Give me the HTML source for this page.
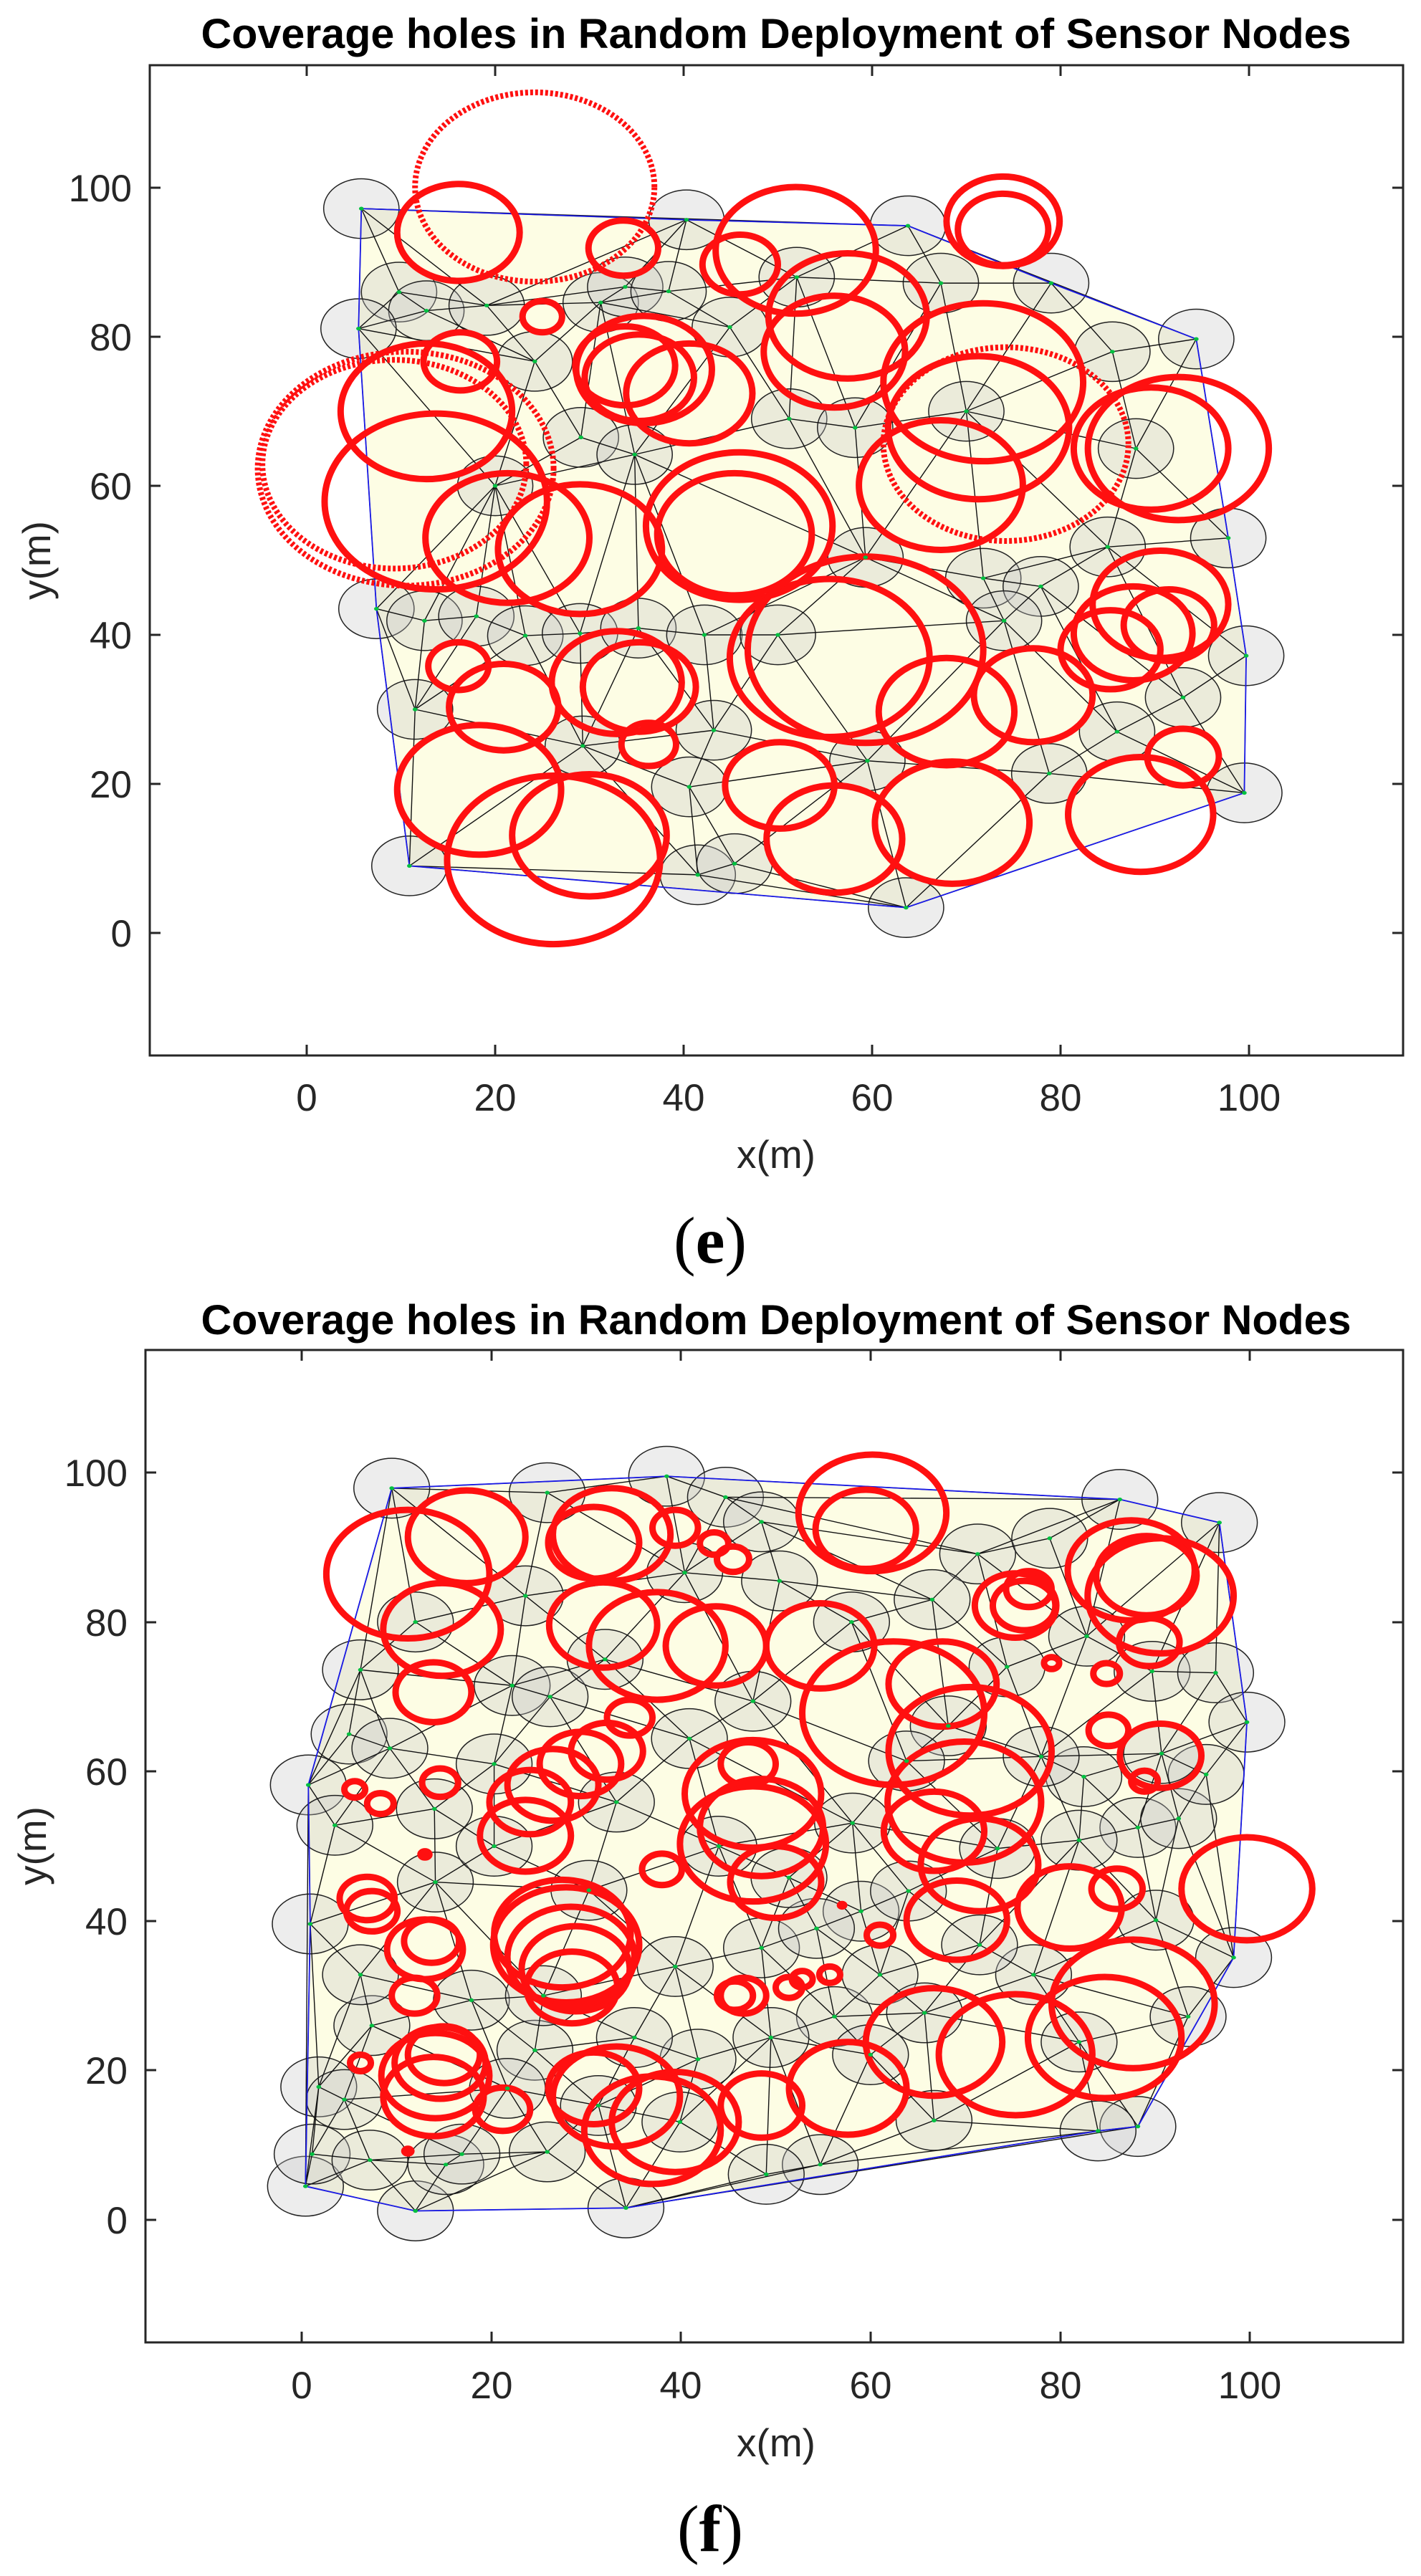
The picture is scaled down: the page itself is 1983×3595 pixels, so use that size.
<!DOCTYPE html>
<html><head><meta charset="utf-8"><style>
html,body{margin:0;padding:0;background:#fff;}
svg{display:block}
.t{font-family:"Liberation Sans",Arial,sans-serif;fill:#262626}
</style></head><body>
<svg id="S" width="1983" height="3595" viewBox="0 0 1983 3595" xmlns="http://www.w3.org/2000/svg">
<rect width="1983" height="3595" fill="#fff"/>
<!-- ================= TOP PLOT ================= -->
<text x="1083" y="67" text-anchor="middle" font-family="Liberation Sans,Arial,sans-serif" font-weight="bold" font-size="58" textLength="1605" lengthAdjust="spacingAndGlyphs">Coverage holes in Random Deployment of Sensor Nodes</text>
<g id="P1" transform="matrix(13.15 0 0 -10.4 428 1302)">
<polygon fill="#fdfde4" points="5.8,97.2 40.3,95.7 63.8,94.9 79,87.2 94.4,79.7 97.8,53 99.7,37.2 99.5,18.8 63.6,3.4 10.9,9 7.4,43.5 5.5,81.1"/>
</g>
<rect x="209" y="91" width="1749" height="1382" fill="none" stroke="#262626" stroke-width="3"/>
<g stroke="#262626" stroke-width="3">
<line x1="428" y1="1473" x2="428" y2="1458"/><line x1="691" y1="1473" x2="691" y2="1458"/><line x1="954" y1="1473" x2="954" y2="1458"/><line x1="1217" y1="1473" x2="1217" y2="1458"/><line x1="1480" y1="1473" x2="1480" y2="1458"/><line x1="1743" y1="1473" x2="1743" y2="1458"/>
<line x1="428" y1="91" x2="428" y2="106"/><line x1="691" y1="91" x2="691" y2="106"/><line x1="954" y1="91" x2="954" y2="106"/><line x1="1217" y1="91" x2="1217" y2="106"/><line x1="1480" y1="91" x2="1480" y2="106"/><line x1="1743" y1="91" x2="1743" y2="106"/>
<line x1="209" y1="1302" x2="224" y2="1302"/><line x1="209" y1="1094" x2="224" y2="1094"/><line x1="209" y1="886" x2="224" y2="886"/><line x1="209" y1="678" x2="224" y2="678"/><line x1="209" y1="470" x2="224" y2="470"/><line x1="209" y1="262" x2="224" y2="262"/>
<line x1="1958" y1="1302" x2="1943" y2="1302"/><line x1="1958" y1="1094" x2="1943" y2="1094"/><line x1="1958" y1="886" x2="1943" y2="886"/><line x1="1958" y1="678" x2="1943" y2="678"/><line x1="1958" y1="470" x2="1943" y2="470"/><line x1="1958" y1="262" x2="1943" y2="262"/>
</g>
<g class="t" font-size="53" text-anchor="end">
<text x="184" y="1321">0</text><text x="184" y="1113">20</text><text x="184" y="905">40</text><text x="184" y="697">60</text><text x="184" y="489">80</text><text x="184" y="281">100</text>
</g>
<g class="t" font-size="53" text-anchor="middle">
<text x="428" y="1550">0</text><text x="691" y="1550">20</text><text x="954" y="1550">40</text><text x="1217" y="1550">60</text><text x="1480" y="1550">80</text><text x="1743" y="1550">100</text>
<text x="1083" y="1630" font-size="55">x(m)</text>
<text transform="translate(70,782) rotate(-90)" font-size="55">y(m)</text>
</g>
<text x="991" y="1762" text-anchor="middle" font-family="Liberation Serif,serif" font-size="92" fill="#000">(<tspan font-weight="bold">e</tspan>)</text>

<!-- ================= BOTTOM PLOT ================= -->
<text x="1083" y="1862" text-anchor="middle" font-family="Liberation Sans,Arial,sans-serif" font-weight="bold" font-size="58" textLength="1605" lengthAdjust="spacingAndGlyphs">Coverage holes in Random Deployment of Sensor Nodes</text>
<g id="P2" transform="matrix(13.23 0 0 -10.43 421 3098)">
<polygon fill="#fdfde4" points="0.4,4.5 12,1.2 34.2,1.6 84,11.9 88.2,12.5 98.3,35.1 99.7,66.6 96.8,93.3 86.3,96.4 38.5,99.5 9.5,97.9 0.7,58.2 0.9,39.6"/>
</g>
<rect x="203" y="1884" width="1755" height="1385" fill="none" stroke="#262626" stroke-width="3"/>
<g stroke="#262626" stroke-width="3">
<line x1="421" y1="3269" x2="421" y2="3254"/><line x1="686" y1="3269" x2="686" y2="3254"/><line x1="950" y1="3269" x2="950" y2="3254"/><line x1="1215" y1="3269" x2="1215" y2="3254"/><line x1="1480" y1="3269" x2="1480" y2="3254"/><line x1="1744" y1="3269" x2="1744" y2="3254"/>
<line x1="421" y1="1884" x2="421" y2="1899"/><line x1="686" y1="1884" x2="686" y2="1899"/><line x1="950" y1="1884" x2="950" y2="1899"/><line x1="1215" y1="1884" x2="1215" y2="1899"/><line x1="1480" y1="1884" x2="1480" y2="1899"/><line x1="1744" y1="1884" x2="1744" y2="1899"/>
<line x1="203" y1="3098" x2="218" y2="3098"/><line x1="203" y1="2889" x2="218" y2="2889"/><line x1="203" y1="2681" x2="218" y2="2681"/><line x1="203" y1="2472" x2="218" y2="2472"/><line x1="203" y1="2264" x2="218" y2="2264"/><line x1="203" y1="2055" x2="218" y2="2055"/>
<line x1="1958" y1="3098" x2="1943" y2="3098"/><line x1="1958" y1="2889" x2="1943" y2="2889"/><line x1="1958" y1="2681" x2="1943" y2="2681"/><line x1="1958" y1="2472" x2="1943" y2="2472"/><line x1="1958" y1="2264" x2="1943" y2="2264"/><line x1="1958" y1="2055" x2="1943" y2="2055"/>
</g>
<g class="t" font-size="53" text-anchor="end">
<text x="178" y="3117">0</text><text x="178" y="2908">20</text><text x="178" y="2700">40</text><text x="178" y="2491">60</text><text x="178" y="2283">80</text><text x="178" y="2074">100</text>
</g>
<g class="t" font-size="53" text-anchor="middle">
<text x="421" y="3347">0</text><text x="686" y="3347">20</text><text x="950" y="3347">40</text><text x="1215" y="3347">60</text><text x="1480" y="3347">80</text><text x="1744" y="3347">100</text>
<text x="1083" y="3428" font-size="55">x(m)</text>
<text transform="translate(64,2576) rotate(-90)" font-size="55">y(m)</text>
</g>
<text x="991" y="3560" text-anchor="middle" font-family="Liberation Serif,serif" font-size="92" fill="#000">(<tspan font-weight="bold">f</tspan>)</text>
</svg>
<script>
(function(){
var NS="http://www.w3.org/2000/svg";
function el(p,n,a){var e=document.createElementNS(NS,n);for(var k in a)e.setAttribute(k,a[k]);e.setAttribute("vector-effect","non-scaling-stroke");p.appendChild(e);return e;}
function delaunay(P){
  var n=P.length,E={};
  for(var i=0;i<n;i++)for(var j=i+1;j<n;j++)for(var k=j+1;k<n;k++){
    var ax=P[i][0],ay=P[i][1],bx=P[j][0],by=P[j][1],cx=P[k][0],cy=P[k][1];
    var d=2*(ax*(by-cy)+bx*(cy-ay)+cx*(ay-by));if(Math.abs(d)<1e-9)continue;
    var ux=((ax*ax+ay*ay)*(by-cy)+(bx*bx+by*by)*(cy-ay)+(cx*cx+cy*cy)*(ay-by))/d;
    var uy=((ax*ax+ay*ay)*(cx-bx)+(bx*bx+by*by)*(ax-cx)+(cx*cx+cy*cy)*(bx-ax))/d;
    var r2=(ax-ux)*(ax-ux)+(ay-uy)*(ay-uy),ok=true;
    for(var m=0;m<n;m++){if(m==i||m==j||m==k)continue;var dx=P[m][0]-ux,dy=P[m][1]-uy;if(dx*dx+dy*dy<r2-1e-7){ok=false;break;}}
    if(ok){E[i+"_"+j]=1;E[j+"_"+k]=1;E[i+"_"+k]=1;}
  }
  return Object.keys(E).map(function(s){return s.split("_").map(Number);});
}
function draw(id,P,hull,R){
  var g=document.getElementById(id);
  var gc=el(g,"g",{});
  P.forEach(function(p){el(gc,"circle",{cx:p[0],cy:p[1],r:4,fill:"#c8c8c8","fill-opacity":"0.32",stroke:"#222","stroke-width":"1.5"});});
  var gl=el(g,"g",{});
  delaunay(P).forEach(function(e){var a=P[e[0]],b=P[e[1]];el(gl,"line",{x1:a[0],y1:a[1],x2:b[0],y2:b[1],stroke:"#111","stroke-width":"1.4"});});
  el(g,"polygon",{points:hull.map(function(p){return p.join(",");}).join(" "),fill:"none",stroke:"#1a1ae6","stroke-width":"1.8"});
  var gr=el(g,"g",{});
  R.forEach(function(c){
    if(c[3]==1){el(gr,"circle",{cx:c[0],cy:c[1],r:c[2],fill:"none",stroke:"#ff1010","stroke-width":"8","stroke-dasharray":"4 3"});}
    else if(c[3]==2){el(gr,"circle",{cx:c[0],cy:c[1],r:c[2],fill:"#ff1010",stroke:"#ff1010","stroke-width":"3"});}
    else el(gr,"circle",{cx:c[0],cy:c[1],r:c[2],fill:"none",stroke:"#ff1010","stroke-width":"9"});
  });
  P.forEach(function(p){el(g,"circle",{cx:p[0],cy:p[1],r:0.25,fill:"#00c040"});});
}
var P1=[[5.8,97.2],[40.3,95.7],[63.8,94.9],[9.8,86],[12.7,83.5],[5.5,81.1],[19.1,84.2],[24.2,76.7],[31.2,84.6],[33.8,86.7],[38.4,86.1],[44.9,81.3],[67.3,87.2],[79,87.2],[85.5,78],[94.4,79.7],[29.1,66.5],[34.8,64.2],[51.2,69],[58.2,67.8],[97.8,53],[85,51.8],[59.3,50.4],[71.8,47.6],[77.9,46.5],[7.4,43.5],[12.5,41.9],[18,42.5],[23.2,39.9],[29,40.2],[35.2,40.9],[42.2,40],[74,41.9],[93,31.6],[99.7,37.2],[11.5,30],[43.2,27.2],[29.3,25.1],[59.5,23.1],[78.8,21.4],[86,27],[40.6,19.6],[99.5,18.8],[10.9,9],[41.5,7.8],[45.4,9.3],[63.6,3.4],[52,88],[20,60],[70,70],[50,40],[88,65]];
var H1=[[5.8,97.2],[40.3,95.7],[63.8,94.9],[79,87.2],[94.4,79.7],[97.8,53],[99.7,37.2],[99.5,18.8],[63.6,3.4],[10.9,9],[7.4,43.5],[5.5,81.1],[5.8,97.2]];
var R1=[[24.2,100.1,12.7,1],[16.1,94,6.5],[33.6,91.9,3.7],[25,82.7,2.1],[46,89.7,4],[51.9,91.6,8.5],[57.4,82.8,8.4],[56,78,7.5],[73.9,95.5,6],[73.9,94.4,4.8],[16.3,76.7,3.9],[10.5,62.3,15.7,1],[9.3,62.9,14,1],[12.7,70,9.1],[13.7,57.9,11.8],[21.3,53,8.7],[29,51.5,8.7],[45.9,54.6,9.9],[45.4,53.5,8.2],[33.8,76.1,5.3],[35.3,74.5,5.8],[40.6,72.4,6.7],[35.8,75.6,7.2],[71.8,73.9,10.6],[74.2,65.6,13,1],[67.3,60.1,8.7],[71.3,67.8,9.6],[92.5,65,9.6],[89.6,65,8.2],[16.1,35.8,3.2],[20.9,30.3,5.8],[18.3,19.2,8.7],[26.2,9.8,11.3],[30,13.1,8.2],[32.9,33.6,6.9],[35.3,33,6],[36.3,25.3,2.9],[55.5,36.9,10.6],[59.3,38,12.5],[50.2,19.8,5.8],[56,12.6,7.2],[68.5,14.8,8.2],[67.9,29.7,7.2],[77.1,31.9,6.3],[85.3,38,5.3],[87.7,40.2,6.3],[90.6,44.1,7.2],[91.5,41.3,4.8],[93,23.6,3.8],[88.5,15.9,7.7]];
var P2=[[9.5,97.9],[25.9,97.3],[38.5,99.5],[44.7,96.7],[48.5,93.4],[86.3,96.4],[96.8,93.3],[71.3,89.1],[78.9,91.2],[66.5,83],[82.8,78.1],[89.7,73.4],[96.4,73.2],[99.7,66.6],[6.2,73.6],[22.2,71.5],[26.2,70],[5,65],[0.7,58.2],[3.5,52.8],[9.3,63.1],[20.3,61],[23.6,83.5],[40.4,86.6],[50.4,85.5],[40.9,64.4],[47.6,69.4],[58.1,53.1],[88.2,52.5],[92.5,53.7],[90.1,40.1],[98.3,35.1],[77.2,32.8],[66.7,13.3],[88.2,12.5],[84,11.9],[54.7,7.4],[49,6.1],[34.2,1.6],[12,1.2],[0.4,4.5],[1.1,8.8],[7.2,8],[15.2,7.4],[16.9,8.8],[25.9,9.1],[1.8,17.8],[4.5,16.1],[7.4,26],[17.9,29.4],[24.6,22.7],[0.9,39.6],[6.2,32.8],[14.1,45.2],[30.3,44.1],[39.4,33.9],[41.8,21.5],[48.5,36.4],[56.2,27.2],[61,32.8],[35.1,24.4],[49.5,24.4],[20.3,50],[33.2,55.9],[74.4,74],[68.2,66.1],[82.5,59.3],[82,50.8],[73.4,49.7],[71.5,36.8],[65.7,27.7],[93.5,27.2],[82,23.8],[59,41.3],[54.3,39],[25.5,30],[21.7,17.6],[39.9,13.1],[31.3,15.3],[60,22.1],[63.8,61.4],[51.4,45.8],[95.4,59.6],[90.7,62.4],[12,80],[32,75],[58,80],[14,55],[44,50],[78,62],[64,44]];
var H2=[[0.4,4.5],[12,1.2],[34.2,1.6],[84,11.9],[88.2,12.5],[98.3,35.1],[99.7,66.6],[96.8,93.3],[86.3,96.4],[38.5,99.5],[9.5,97.9],[0.7,58.2],[0.9,39.6],[0.4,4.5]];
var R2=[[11.2,86.4,8.6],[17.4,91.4,6.2],[14.8,79,6.2],[13.9,70.6,4],[30.8,90.6,4.8],[32.7,91.7,6.2],[39.4,92.6,2.4],[43.5,90.5,1.5],[45.5,88.4,1.7],[60.2,94.6,7.8],[59.5,92.4,5.3],[31.8,79.6,5.7],[37.5,76.8,7.2],[43.7,76.8,5.3],[54.7,76.8,5.7],[62.4,67.8,9.6],[67.6,71.7,5.7],[70.5,62.7,8.6],[66.7,52,5.3],[69.9,55.9,8.1],[69.1,40.1,5.3],[71.5,47.5,6.2],[81,41.8,5.5],[75.3,82.2,4.3],[76.2,82.2,3.3],[76.7,84.4,2.4],[87.5,86.9,6.7],[90.6,83.5,7.7],[89.4,77.3,3.2],[89.1,86.2,5.3],[79.1,74.5,0.8],[84.9,73.1,1.4],[85.1,65.5,2.1],[90.6,62.1,4.3],[88.9,58.7,1.4],[86,44.3,2.7],[99.7,44.3,6.9],[87.7,28.9,8.6],[84.7,24.4,8.1],[75.3,22.1,8.1],[66.7,23.8,7.2],[57.6,17.6,6.2],[48.5,15.3,4.3],[33.2,16.5,6.7],[37,12,7.2],[39.4,13.1,6.7],[30.8,17.6,4.8],[26.5,58.2,4.8],[29.4,61,4.3],[32.2,62.7,3.8],[34.6,67.2,2.4],[23.6,51.4,4.8],[24.1,55.9,4.3],[27.9,36.8,7.7],[28.4,35.2,6.7],[28.9,33.6,5.7],[28.5,31.1,4.8],[27.5,38.3,7.2],[47.6,57,7.2],[47.6,50.3,7.7],[50,45.2,4.8],[47.1,61,2.9],[48.5,52.5,6.5],[38,46.9,2.1],[46.6,30,2.4],[45.7,30,1.9],[51.4,31.1,1.4],[52.8,32.2,1.1],[55.7,32.8,1.1],[61,38.1,1.4],[57,42.1,0.45,2],[5.6,57.6,1.1],[8.3,55.7,1.4],[14.6,58.5,1.9],[13,48.9,0.7,2],[6.9,43,2.9],[7.4,41.3,2.7],[13,36.2,4],[13.7,37.3,2.9],[11.9,30,2.4],[6.2,21,1.1],[14.1,19.3,5.7],[14.6,21,4.8],[15,22.1,3.8],[13.9,16.5,5.3],[21.2,14.8,2.9],[11.2,9.2,0.6,2]];
draw("P1",P1,H1,R1);draw("P2",P2,H2,R2);
})();
</script>
</body></html>
